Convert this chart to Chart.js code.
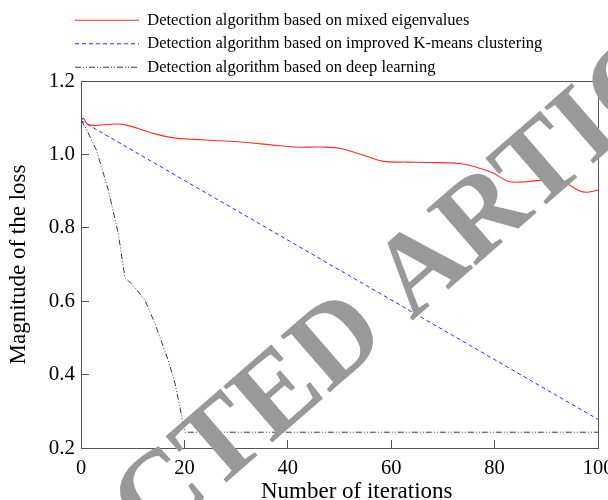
<!DOCTYPE html>
<html>
<head>
<meta charset="utf-8">
<script src="https://cdn.jsdelivr.net/npm/chart.js@4/dist/chart.umd.min.js"></script>
<style>
    body { margin: 0; background: #ffffff; }
    #chart_box { width: 608px; height: 500px; }
</style>
</head>
<body>
<div id="chart_box"><canvas id="loss_chart"></canvas></div>
<script>
var seriesNames = [
    "Detection algorithm based on mixed eigenvalues",
    "Detection algorithm based on improved K-means clustering",
    "Detection algorithm based on deep learning"
];

// mixed eigenvalues (red)
var eigenIter = [0, 0.5, 1.2, 2.5, 6.8, 9, 14.3, 18, 21.8, 25.5, 31.6, 36.8, 41.3, 46.6, 50.3, 54.8, 58.6, 63.1, 66.9, 73.3, 77.4, 79.6, 82.6, 85.6, 89.4, 93.9, 96.5, 98, 100];
var eigenLoss = [1.093, 1.098, 1.083, 1.079, 1.083, 1.079, 1.056, 1.045, 1.041, 1.038, 1.033, 1.026, 1.020, 1.020, 1.016, 0.997, 0.981, 0.979, 0.978, 0.975, 0.961, 0.950, 0.927, 0.925, 0.929, 0.920, 0.900, 0.897, 0.903];

// improved K-means (blue)
var kmeansIter = [0, 100];
var kmeansLoss = [1.092, 0.278];

// deep learning (dark grey)
var deepIter = [0, 1, 3, 5.3, 7.2, 8.5, 10.1, 12.4, 14.3, 16.9, 18.2, 20.1, 100];
var deepLoss = [1.093, 1.07, 1.011, 0.902, 0.785, 0.664, 0.643, 0.602, 0.539, 0.438, 0.375, 0.243, 0.243];

var xTicks = [0, 20, 40, 60, 80, 100];
var yTicks = [0.2, 0.4, 0.6, 0.8, 1.0, 1.2];

var serif = "'Liberation Serif', 'Times New Roman', serif";
var frameColor = "#555555";

var toPoints = function (xs, ys) {
    let pts = [];
    for (let i = 0; i < xs.length; i++) {
        pts.push({x: xs[i], y: ys[i]});
    }
    return pts;
}

// legend sits left-aligned at the plot's x offset, not at the canvas edge
var legendShift = {
    id: 'legendShift',
    afterLayout: function (chart) {
        chart.legend.left += 68;
    }
};

var frameAndMark = {
    id: 'frameAndMark',
    afterDraw: function (chart) {
        let ctx = chart.ctx;
        let a = chart.chartArea;
        ctx.save();
        ctx.strokeStyle = frameColor;
        ctx.lineWidth = 1;
        ctx.strokeRect(Math.round(a.left) + 0.5, Math.round(a.top) + 0.5, Math.round(a.right - a.left), Math.round(a.bottom - a.top));
        ctx.restore();

        ctx.save();
        ctx.translate(306, 374);
        ctx.rotate(-41 * Math.PI / 180);
        ctx.font = "bold 114px " + serif;
        ctx.fillStyle = "#999999";
        ctx.textAlign = "center";
        ctx.textBaseline = "middle";
        ctx.fillText("RETRACTED ARTICLE", 0, 0);
        ctx.restore();
    }
};

var legendItems = function (chart) {
    let items = Chart.defaults.plugins.legend.labels.generateLabels(chart);
    items.forEach(function (item, i) {
        let ds = chart.data.datasets[i];
        item.lineDash = ds.borderDash || [];
        item.strokeStyle = ds.borderColor;
        item.lineWidth = 1;
    });
    return items;
}

var chartData = {
    datasets: [
        {
            label: seriesNames[0],
            data: toPoints(eigenIter, eigenLoss),
            borderColor: "#ff2a2a",
            backgroundColor: "#ff2a2a",
            borderWidth: 1.1,
            tension: 0.4,
            pointRadius: 0
        },
        {
            label: seriesNames[1],
            data: toPoints(kmeansIter, kmeansLoss),
            borderColor: "#2a2aff",
            backgroundColor: "#2a2aff",
            borderWidth: 1,
            borderDash: [4, 3],
            tension: 0,
            pointRadius: 0
        },
        {
            label: seriesNames[2],
            data: toPoints(deepIter, deepLoss),
            borderColor: "#3a3a3a",
            backgroundColor: "#3a3a3a",
            borderWidth: 1,
            borderDash: [6, 2, 1, 2, 1, 2],
            tension: 0,
            pointRadius: 0
        }
    ]
};

var chartOptions = {
    responsive: true,
    maintainAspectRatio: false,
    animation: false,
    layout: {
        padding: {top: 5, left: 0, right: 0, bottom: 0}
    },
    plugins: {
        tooltip: {enabled: false},
        legend: {
            display: true,
            position: 'top',
            align: 'start',
            maxHeight: 76,
            labels: {
                color: "#000000",
                font: {family: serif, size: 16.5},
                usePointStyle: true,
                pointStyle: 'line',
                pointStyleWidth: 64,
                padding: 7,
                generateLabels: legendItems
            }
        }
    },
    scales: {
        x: {
            type: 'linear',
            min: 0,
            max: 100,
            afterFit: function (scale) {
                scale.paddingRight = 10;
                scale.height = 52;
            },
            afterBuildTicks: function (scale) {
                scale.ticks = xTicks.map(v => ({value: v}));
            },
            ticks: {
                color: "#000000",
                font: {family: serif, size: 20.5},
                padding: 16,
                maxRotation: 0
            },
            grid: {
                drawOnChartArea: false,
                drawTicks: true,
                tickLength: -8,
                tickColor: frameColor
            },
            border: {color: frameColor},
            title: {
                display: true,
                // the source title sits a little right of the plot centre
                text: "\u2003\u2002Number of iterations",
                color: "#000000",
                font: {family: serif, size: 23, lineHeight: 1},
                padding: {top: 0, bottom: -3}
            }
        },
        y: {
            type: 'linear',
            min: 0.2,
            max: 1.2,
            afterFit: function (scale) {
                scale.width = 81;
            },
            afterBuildTicks: function (scale) {
                scale.ticks = yTicks.map(v => ({value: v}));
            },
            ticks: {
                color: "#000000",
                font: {family: serif, size: 21},
                padding: 14,
                callback: function (v) { return v.toFixed(1); }
            },
            grid: {
                drawOnChartArea: false,
                drawTicks: true,
                tickLength: -8,
                tickColor: frameColor
            },
            border: {color: frameColor},
            title: {
                display: true,
                text: "Magnitude of the loss",
                color: "#000000",
                font: {family: serif, size: 23, lineHeight: 1},
                padding: {top: 7, bottom: 20}
            }
        }
    }
};

new Chart("loss_chart", {
    type: 'line',
    data: chartData,
    options: chartOptions,
    plugins: [legendShift, frameAndMark]
});
</script>
</body>
</html>
